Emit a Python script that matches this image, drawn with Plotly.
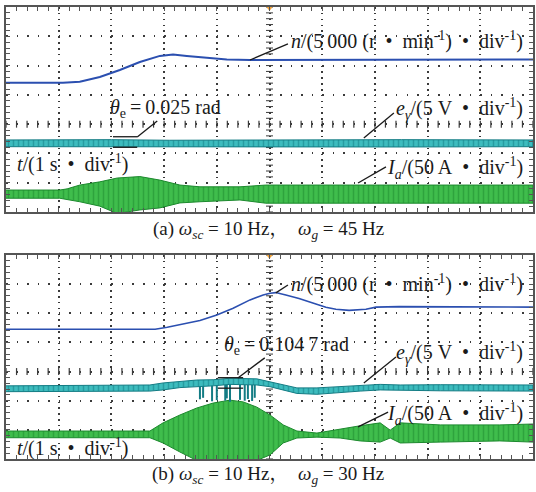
import numpy as np
import plotly.graph_objects as go

# ---------------- data (screen divisions; time in s, 1 s/div) ----------------
# panel (a)
a_n_t = [0, 1.08, 1.40, 1.78, 2.16, 2.54, 2.92, 3.17, 3.43, 3.81, 4.19, 4.63, 5.58, 7.48, 10]
a_n = [4.41, 4.41, 4.45, 4.61, 4.85, 5.12, 5.33, 5.38, 5.33, 5.27, 5.21, 5.19, 5.19, 5.21, 5.21]

a_e_t = [0, 2.0, 3.1, 5.0, 7.5, 10]
a_e_top = [2.46, 2.47, 2.45, 2.46, 2.47, 2.46]
a_e_bot = [2.23, 2.22, 2.24, 2.23, 2.22, 2.23]

a_i_t = [0, 1.02, 1.16, 1.40, 1.78, 2.11, 2.54, 2.92, 3.30, 3.68, 4.44, 4.93, 10]
a_i_top = [0.75, 0.75, 0.79, 0.92, 1.03, 1.16, 1.21, 1.09, 0.92, 0.86, 0.86, 0.92, 0.92]
a_i_bot = [0.47, 0.47, 0.44, 0.35, 0.20, -0.05, 0.07, 0.14, 0.31, 0.35, 0.41, 0.30, 0.30]

# panel (b)
b_n_t = [0, 2.83, 3.06, 3.36, 3.68, 4.00, 4.31, 4.63, 4.88, 5.01, 5.12, 5.31, 5.56, 5.88,
         6.07, 6.26, 6.51, 6.83, 7.02, 7.46, 10]
b_n = [4.45, 4.45, 4.52, 4.63, 4.75, 4.94, 5.17, 5.46, 5.63, 5.69, 5.71, 5.63, 5.51, 5.32,
       5.21, 5.14, 5.10, 5.14, 5.21, 5.23, 5.21]

b_e_t = [0, 2.73, 2.98, 3.30, 3.62, 3.93, 4.25, 4.76, 5.01, 5.26, 5.52, 5.90, 6.34, 6.72,
         7.10, 7.48, 8.24, 10]
b_e_top = [2.51, 2.54, 2.61, 2.65, 2.71, 2.72, 2.77, 2.75, 2.65, 2.54, 2.44, 2.44, 2.48, 2.54,
           2.56, 2.54, 2.55, 2.54]
b_e_bot = [2.31, 2.33, 2.37, 2.45, 2.48, 2.51, 2.56, 2.54, 2.48, 2.37, 2.25, 2.22, 2.28, 2.33,
           2.37, 2.37, 2.34, 2.33]

b_spike_t = [3.68, 3.74, 3.91, 4.00, 4.16, 4.19, 4.25, 4.44, 4.53, 4.59, 4.67, 4.72]
b_spike_high = [2.50, 2.52, 2.55, 2.55, 2.56, 2.57, 2.57, 2.56, 2.55, 2.55, 2.55, 2.54]
b_spike_low = [2.05, 2.10, 1.98, 2.02, 2.00, 2.08, 1.96, 2.03, 2.00, 2.06, 1.99, 2.10]

b_i_t = [0, 2.73, 2.98, 3.30, 3.62, 3.93, 4.25, 4.50, 4.76, 5.01, 5.26, 5.52, 5.90, 6.34,
         6.72, 7.10, 7.29, 7.48, 8.24, 9.37, 10]
b_i_top = [0.96, 0.96, 1.24, 1.51, 1.75, 1.92, 2.02, 1.96, 1.78, 1.51, 1.17, 0.96, 0.89, 1.03,
           1.14, 1.24, 0.99, 1.24, 1.17, 1.17, 1.20]
b_i_bot = [0.73, 0.73, 0.55, 0.24, -0.05, -0.05, -0.05, -0.05, -0.05, 0.14, 0.55, 0.72, 0.75, 0.72,
           0.62, 0.58, 0.72, 0.55, 0.58, 0.62, 0.58]

# labels
SP = "\u2002"   # en space around the bullets
n_label = f"<i>n</i>/(5\u2009000 (r{SP}•{SP}min<sup>-1</sup>){SP}•{SP}div<sup>-1</sup>)"
e_label = f"<i>e</i><sub><i>γ</i></sub>/(5 V{SP}•{SP}div<sup>-1</sup>)"
i_label = f"<i>I</i><sub><i>a</i></sub>/(50 A{SP}•{SP}div<sup>-1</sup>)"
t_label = f"<i>t</i>/(1 s{SP}•{SP}div<sup>-1</sup>)"
theta_a = "<i>θ</i><sub>e</sub>\u2009=\u20090.025 rad"
theta_b = "<i>θ</i><sub>e</sub>\u2009=\u20090.104\u20097 rad"
cap_a = "(a) <i>ω</i><sub><i>sc</i></sub> = 10 Hz，  <i>ω</i><sub><i>g</i></sub> = 45 Hz"
cap_b = "(b) <i>ω</i><sub><i>sc</i></sub> = 10 Hz，  <i>ω</i><sub><i>g</i></sub> = 30 Hz"

# ---------------- styles ----------------
BLUE = "#2b4fb0"
CYAN = "#3dbcbe"
TEAL = "#137c84"
GREEN = "#3fbd4c"
DGREEN = "#1d8a2e"
FRAME = "#555555"
GRID = "#3a3a3a"
FONT = "Liberation Serif, Noto Serif CJK SC, Noto Sans CJK SC, serif"

fig = go.Figure()


def band(t, top, bot, fill, edge, xa, ya, solidity):
    fig.add_trace(go.Scatter(
        x=list(t) + list(t)[::-1], y=list(top) + list(bot)[::-1],
        fill="toself", fillcolor=fill, mode="lines",
        fillpattern=dict(shape="|", fgcolor=edge, bgcolor=fill, size=5, solidity=solidity),
        line=dict(color=edge, width=1), xaxis=xa, yaxis=ya,
        hoverinfo="skip", showlegend=False))


def graticule(xa, ya):
    yy = np.arange(0, 7.001, 0.2)
    xx = np.arange(0, 10.001, 0.2)
    fig.add_trace(go.Scatter(x=[5] * len(yy), y=yy, mode="markers",
                             marker=dict(symbol="line-ew", size=5, line=dict(width=1, color=GRID)),
                             xaxis=xa, yaxis=ya, hoverinfo="skip", showlegend=False))
    fig.add_trace(go.Scatter(x=xx, y=[3] * len(xx), mode="markers",
                             marker=dict(symbol="line-ns", size=5, line=dict(width=1.2, color=GRID)),
                             xaxis=xa, yaxis=ya, hoverinfo="skip", showlegend=False))
    fig.add_trace(go.Scatter(x=[5], y=[7], mode="markers", cliponaxis=False,
                             marker=dict(symbol="triangle-down", size=8, color="#f2a33a"),
                             xaxis=xa, yaxis=ya, hoverinfo="skip", showlegend=False))


# panel (a)
graticule("x", "y")
band(a_e_t, a_e_top, a_e_bot, CYAN, TEAL, "x", "y", 0.3)
band(a_i_t, a_i_top, a_i_bot, GREEN, DGREEN, "x", "y", 0.3)
fig.add_trace(go.Scatter(x=a_n_t, y=a_n, mode="lines", line=dict(color=BLUE, width=2),
                         xaxis="x", yaxis="y", hoverinfo="skip", showlegend=False))

# panel (b)
graticule("x2", "y2")
sx, sy = [], []
for t, hi, lo in zip(b_spike_t, b_spike_high, b_spike_low):
    sx += [t, t, None]
    sy += [hi, lo, None]
band(b_i_t, b_i_top, b_i_bot, GREEN, DGREEN, "x2", "y2", 0.3)
fig.add_trace(go.Scatter(x=sx, y=sy, mode="lines", line=dict(color=TEAL, width=2),
                         xaxis="x2", yaxis="y2", hoverinfo="skip", showlegend=False))
band(b_e_t, b_e_top, b_e_bot, CYAN, TEAL, "x2", "y2", 0.3)
fig.add_trace(go.Scatter(x=b_n_t, y=b_n, mode="lines", line=dict(color=BLUE, width=1.6),
                         xaxis="x2", yaxis="y2", hoverinfo="skip", showlegend=False))

# axes
xdom = [6 / 536, 533 / 536]
ax_common = dict(showticklabels=False, zeroline=False, showline=True, linecolor=FRAME, linewidth=2,
                 mirror="allticks", ticks="inside", ticklen=4, tickcolor=FRAME, tickwidth=1,
                 showgrid=True, gridcolor=GRID, gridwidth=1.5, fixedrange=True)
xa = dict(ax_common, range=[0, 10], dtick=1, griddash="1.5px,4.36px",
          minor=dict(dtick=0.2, ticks="inside", ticklen=4, tickcolor=FRAME, showgrid=False))
ya = dict(ax_common, range=[0, 7], dtick=1, griddash="1.5px,9.04px",
          minor=dict(dtick=0.2, ticks="inside", ticklen=4, tickcolor=FRAME, showgrid=False))

fig.update_layout(
    width=536, height=492, margin=dict(l=0, r=0, t=0, b=0),
    paper_bgcolor="white", plot_bgcolor="white",
    font=dict(family=FONT, color="#1a1a1a", size=19),
    xaxis=dict(xa, domain=xdom, anchor="y"),
    yaxis=dict(ya, domain=[1 - 212 / 492, 1 - 7 / 492], anchor="x"),
    xaxis2=dict(xa, domain=xdom, anchor="y2"),
    yaxis2=dict(ya, domain=[1 - 459 / 492, 1 - 255 / 492], anchor="x2"),
)

LBL = dict(showarrow=False, font=dict(family=FONT, size=20, color="#1a1a1a"))
CAP = dict(showarrow=False, font=dict(family=FONT, size=19, color="#1a1a1a"))
ann = [
    dict(LBL, text=n_label, x=9.85, y=5.87, xref="x", yref="y", xanchor="right", yanchor="middle"),
    dict(LBL, text=theta_a, x=1.94, y=3.55, xref="x", yref="y", xanchor="left", yanchor="middle"),
    dict(LBL, text=e_label, x=9.85, y=3.52, xref="x", yref="y", xanchor="right", yanchor="middle"),
    dict(LBL, text=t_label, x=0.17, y=1.64, xref="x", yref="y", xanchor="left", yanchor="middle"),
    dict(LBL, text=i_label, x=9.85, y=1.50, xref="x", yref="y", xanchor="right", yanchor="middle"),
    dict(LBL, text=n_label, x=9.85, y=6.01, xref="x2", yref="y2", xanchor="right", yanchor="middle"),
    dict(LBL, text=theta_b, x=4.10, y=3.88, xref="x2", yref="y2", xanchor="left", yanchor="middle"),
    dict(LBL, text=e_label, x=9.85, y=3.64, xref="x2", yref="y2", xanchor="right", yanchor="middle"),
    dict(LBL, text=i_label, x=9.85, y=1.54, xref="x2", yref="y2", xanchor="right", yanchor="middle"),
    dict(LBL, text=t_label, x=0.17, y=0.41, xref="x2", yref="y2", xanchor="left", yanchor="middle"),
    dict(CAP, text=cap_a, x=0.5, y=1 - 230 / 492, xref="paper", yref="paper", xanchor="center", yanchor="middle"),
    dict(CAP, text=cap_b, x=0.5, y=1 - 475 / 492, xref="paper", yref="paper", xanchor="center", yanchor="middle"),
]
fig.update_layout(annotations=ann)

# leader lines and angle markers
L = dict(color="#1a1a1a", width=1.3)
shapes = [
    dict(type="line", xref="x", yref="y", x0=4.63, y0=5.19, x1=5.35, y1=5.74, line=L),
    dict(type="line", xref="x", yref="y", x0=2.49, y0=2.56, x1=2.87, y1=3.11, line=L),
    dict(type="line", xref="x", yref="y", x0=2.03, y0=2.57, x1=2.49, y1=2.57, line=L),
    dict(type="line", xref="x", yref="y", x0=2.03, y0=2.21, x1=2.49, y1=2.21, line=L),
    dict(type="line", xref="x", yref="y", x0=6.79, y0=2.53, x1=7.36, y1=3.38, line=L),
    dict(type="line", xref="x", yref="y", x0=6.68, y0=0.99, x1=7.21, y1=1.54, line=L),
    dict(type="line", xref="x2", yref="y2", x0=5.12, y0=5.70, x1=5.35, y1=5.97, line=L),
    dict(type="line", xref="x2", yref="y2", x0=4.40, y0=2.78, x1=4.91, y1=3.47, line=L),
    dict(type="line", xref="x2", yref="y2", x0=4.02, y0=2.79, x1=4.50, y1=2.79, line=L),
    dict(type="line", xref="x2", yref="y2", x0=4.02, y0=2.43, x1=4.50, y1=2.43, line=L),
    dict(type="line", xref="x2", yref="y2", x0=6.79, y0=2.61, x1=7.40, y1=3.50, line=L),
    dict(type="line", xref="x2", yref="y2", x0=6.68, y0=1.10, x1=7.25, y1=1.61, line=L),
]
fig.update_layout(shapes=shapes)

fig.write_html("out.html")
